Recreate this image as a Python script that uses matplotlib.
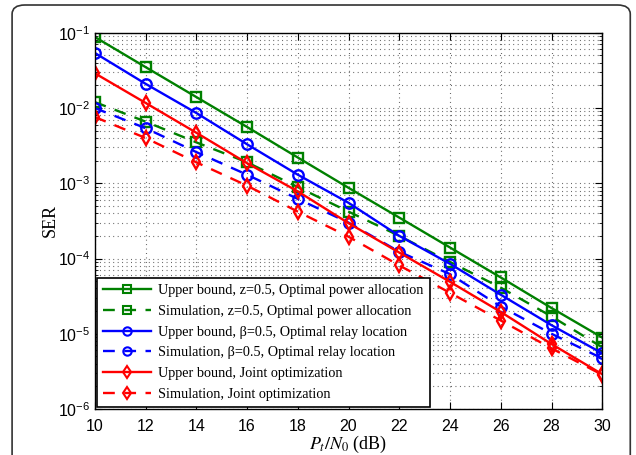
import numpy as np
import matplotlib
matplotlib.use("Agg")
import matplotlib.pyplot as plt
from matplotlib.patches import FancyBboxPatch
from matplotlib.ticker import LogLocator, NullFormatter

plt.rcParams["mathtext.fontset"] = "stix"

# SNR points (dB)
snr = [10, 12, 14, 16, 18, 20, 22, 24, 26, 28, 30]

# values
ub_power = [8.8e-2, 3.5e-2, 1.4e-2, 5.6e-3, 2.2e-3, 8.7e-4, 3.5e-4, 1.4e-4, 5.6e-5, 2.2e-5, 8.9e-6]
sim_power = [1.2e-2, 6.6e-3, 3.5e-3, 1.9e-3, 8.9e-4, 4.2e-4, 2.0e-4, 9.0e-5, 4.1e-5, 1.7e-5, 6.6e-6]
ub_relay = [5.4e-2, 2.1e-2, 8.6e-3, 3.3e-3, 1.3e-3, 5.5e-4, 2.0e-4, 8.5e-5, 3.3e-5, 1.3e-5, 5.5e-6]
sim_relay = [1.0e-2, 5.4e-3, 2.6e-3, 1.3e-3, 6.2e-4, 3.0e-4, 1.23e-4, 6.2e-5, 2.3e-5, 1.0e-5, 4.7e-6]
ub_joint = [2.9e-2, 1.17e-2, 4.7e-3, 1.85e-3, 7.8e-4, 2.95e-4, 1.2e-4, 4.9e-5, 1.95e-5, 7.3e-6, 2.9e-6]
sim_joint = [7.6e-3, 4.0e-3, 1.9e-3, 9.3e-4, 4.2e-4, 1.95e-4, 8.1e-5, 3.5e-5, 1.5e-5, 6.4e-6, 2.85e-6]

labels = [
    "Upper bound, z=0.5, Optimal power allocation",
    "Simulation, z=0.5, Optimal power allocation",
    "Upper bound, \u03b2=0.5, Optimal relay location",
    "Simulation, \u03b2=0.5, Optimal relay location",
    "Upper bound, Joint optimization",
    "Simulation, Joint optimization",
]

green = "#008000"
blue = "#0000ff"
red = "#ff0000"

fig = plt.figure(figsize=(6.36, 4.55), dpi=100)
ax = fig.add_axes([0.149, 0.101, 0.798, 0.827])

# outer rounded frame
frame = FancyBboxPatch((0.019, -0.05), 0.972, 1.039, boxstyle="round,pad=0,rounding_size=0.02",
                       transform=fig.transFigure, fill=False, edgecolor="#333333", linewidth=1.2)
fig.patches.append(frame)

kw = dict(linewidth=1.7, markersize=7.5, markerfacecolor="none", markeredgewidth=1.7)
ax.semilogy(snr, ub_power, "-s", color=green, label=labels[0], **kw)
ax.semilogy(snr, sim_power, "--s", color=green, label=labels[1], dashes=(5, 4), **kw)
ax.semilogy(snr, ub_relay, "-o", color=blue, label=labels[2], **kw)
ax.semilogy(snr, sim_relay, "--o", color=blue, label=labels[3], dashes=(5, 4), **kw)
ax.semilogy(snr, ub_joint, "-d", color=red, label=labels[4], **kw)
ax.semilogy(snr, sim_joint, "--d", color=red, label=labels[5], dashes=(5, 4), **kw)

ax.set_xlim(10, 30)
ax.set_ylim(1e-6, 1e-1)
ax.set_xticks(range(10, 31, 2))
ax.yaxis.set_minor_locator(LogLocator(base=10, subs=np.arange(2, 10), numticks=20))
ax.yaxis.set_minor_formatter(NullFormatter())
dot = (0, (0.8, 3.2))
ax.grid(True, which="major", linestyle=dot, color="#555555", linewidth=0.8)
ax.grid(True, which="minor", axis="y", linestyle=dot, color="#555555", linewidth=0.8)
ax.tick_params(which="both", direction="in", top=True, right=True)
ax.tick_params(which="major", length=5, labelsize=11.5)
ax.tick_params(axis="x", which="major", pad=7)
ax.tick_params(axis="y", which="major", pad=3)
ax.tick_params(which="minor", length=2.5)
for lbl in ax.get_xticklabels() + ax.get_yticklabels():
    lbl.set_fontfamily("Liberation Sans")
for s in ax.spines.values():
    s.set_linewidth(1.0)

ax.set_xlabel(r"$P_t/N_0$ (dB)", fontsize=13, family="Liberation Serif", labelpad=0)
ax.set_ylabel("SER", fontsize=13, family="Liberation Serif", labelpad=0)

leg = ax.legend(loc="lower left", prop={"family": "Liberation Serif", "size": 10.3},
                handlelength=3.4, borderaxespad=0.15, fancybox=False, framealpha=1,
                labelspacing=0.55, handletextpad=0.5, borderpad=0.4)
leg.get_frame().set_edgecolor("black")
leg.get_frame().set_linewidth(1.2)
for h in leg.legend_handles:
    h.set_markersize(6)
    h.set_markeredgewidth(1.5)

fig.savefig("out.png", dpi=100)
